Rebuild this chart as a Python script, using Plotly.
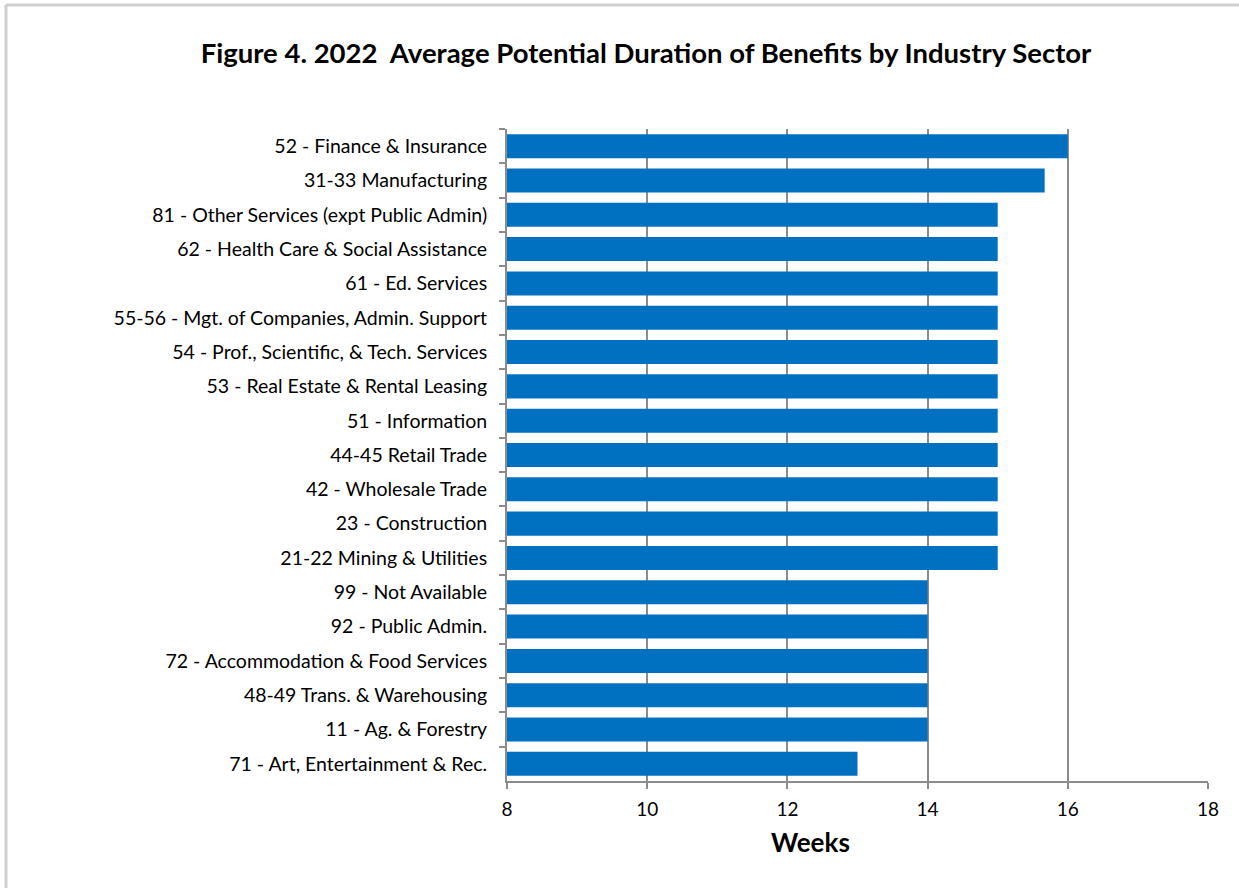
import plotly.graph_objects as go

# Industry sectors, listed top to bottom
sectors = [
    "52 - Finance & Insurance",
    "31-33 Manufacturing",
    "81 - Other Services (expt Public Admin)",
    "62 - Health Care & Social Assistance",
    "61 - Ed. Services",
    "55-56 - Mgt. of Companies, Admin. Support",
    "54 - Prof., Scientific, & Tech. Services",
    "53 - Real Estate & Rental Leasing",
    "51 - Information",
    "44-45 Retail Trade",
    "42 - Wholesale Trade",
    "23 - Construction",
    "21-22 Mining & Utilities",
    "99 - Not Available",
    "92 - Public Admin.",
    "72 - Accommodation & Food Services",
    "48-49 Trans. & Warehousing",
    "11 - Ag. & Forestry",
    "71 - Art, Entertainment & Rec.",
]
weeks = [16.0, 15.67, 15, 15, 15, 15, 15, 15, 15, 15, 15, 15, 15,
         14, 14, 14, 14, 14, 13]

x_ticks = [8, 10, 12, 14, 16, 18]

W, H = 1239, 888
L, R, T, B = 507, 31, 129, 107
pw, ph = W - L - R, H - T - B


def px_to_paper(px, py):
    return (px - L) / pw, (H - B - py) / ph


fig = go.Figure(
    go.Bar(
        x=weeks,
        y=sectors,
        orientation="h",
        marker=dict(color="#0070C0", line=dict(width=0)),
        width=0.7,
        hoverinfo="x+y",
    )
)

font_family = "Lato, 'Open Sans', sans-serif"
grid_color = "#8c8c8c"

fig.update_layout(
    width=W,
    height=H,
    margin=dict(l=L, r=R, t=T, b=B),
    paper_bgcolor="white",
    plot_bgcolor="white",
    showlegend=False,
    font=dict(family=font_family, color="black", size=19),
    title=dict(
        text="<b>Figure 4. 2022  Average Potential Duration of Benefits by Industry Sector</b>",
        x=646 / W,
        xref="container",
        xanchor="center",
        y=1 - 53 / H,
        yref="container",
        yanchor="middle",
        font=dict(size=27.5, family=font_family, color="black"),
    ),
    xaxis=dict(
        range=[8, 18],
        tickvals=x_ticks,
        showgrid=True,
        gridcolor=grid_color,
        gridwidth=2,
        showline=True,
        linecolor=grid_color,
        linewidth=2,
        ticks="outside",
        ticklen=6,
        tickwidth=2,
        tickcolor=grid_color,
        tickfont=dict(size=19),
        ticklabelstandoff=4,
        zeroline=False,
        fixedrange=True,
    ),
    yaxis=dict(
        autorange="reversed",
        showgrid=False,
        showline=True,
        linecolor=grid_color,
        linewidth=2,
        ticks="outside",
        tickson="boundaries",
        ticklen=6,
        tickwidth=2,
        tickcolor=grid_color,
        tickfont=dict(size=19.5),
        ticklabelstandoff=14,
        fixedrange=True,
    ),
)

# Axis title placed under the tick labels
wx, wy = px_to_paper(810, 842)
fig.add_annotation(
    text="<b>Weeks</b>",
    x=wx, y=wy, xref="paper", yref="paper",
    xanchor="center", yanchor="middle",
    showarrow=False,
    font=dict(size=26, family=font_family, color="black"),
)

# Light frame along the top and left edges of the chart area
x0, y0 = px_to_paper(6, 5)
x1, _ = px_to_paper(1239, 5)
_, y1 = px_to_paper(6, 888)
fig.add_shape(type="line", xref="paper", yref="paper",
              x0=x0, y0=y0, x1=x1, y1=y0,
              line=dict(color="#cfcfcf", width=3))
fig.add_shape(type="line", xref="paper", yref="paper",
              x0=x0, y0=y0, x1=x0, y1=y1,
              line=dict(color="#cfcfcf", width=3))

fig.write_html("out.html")
